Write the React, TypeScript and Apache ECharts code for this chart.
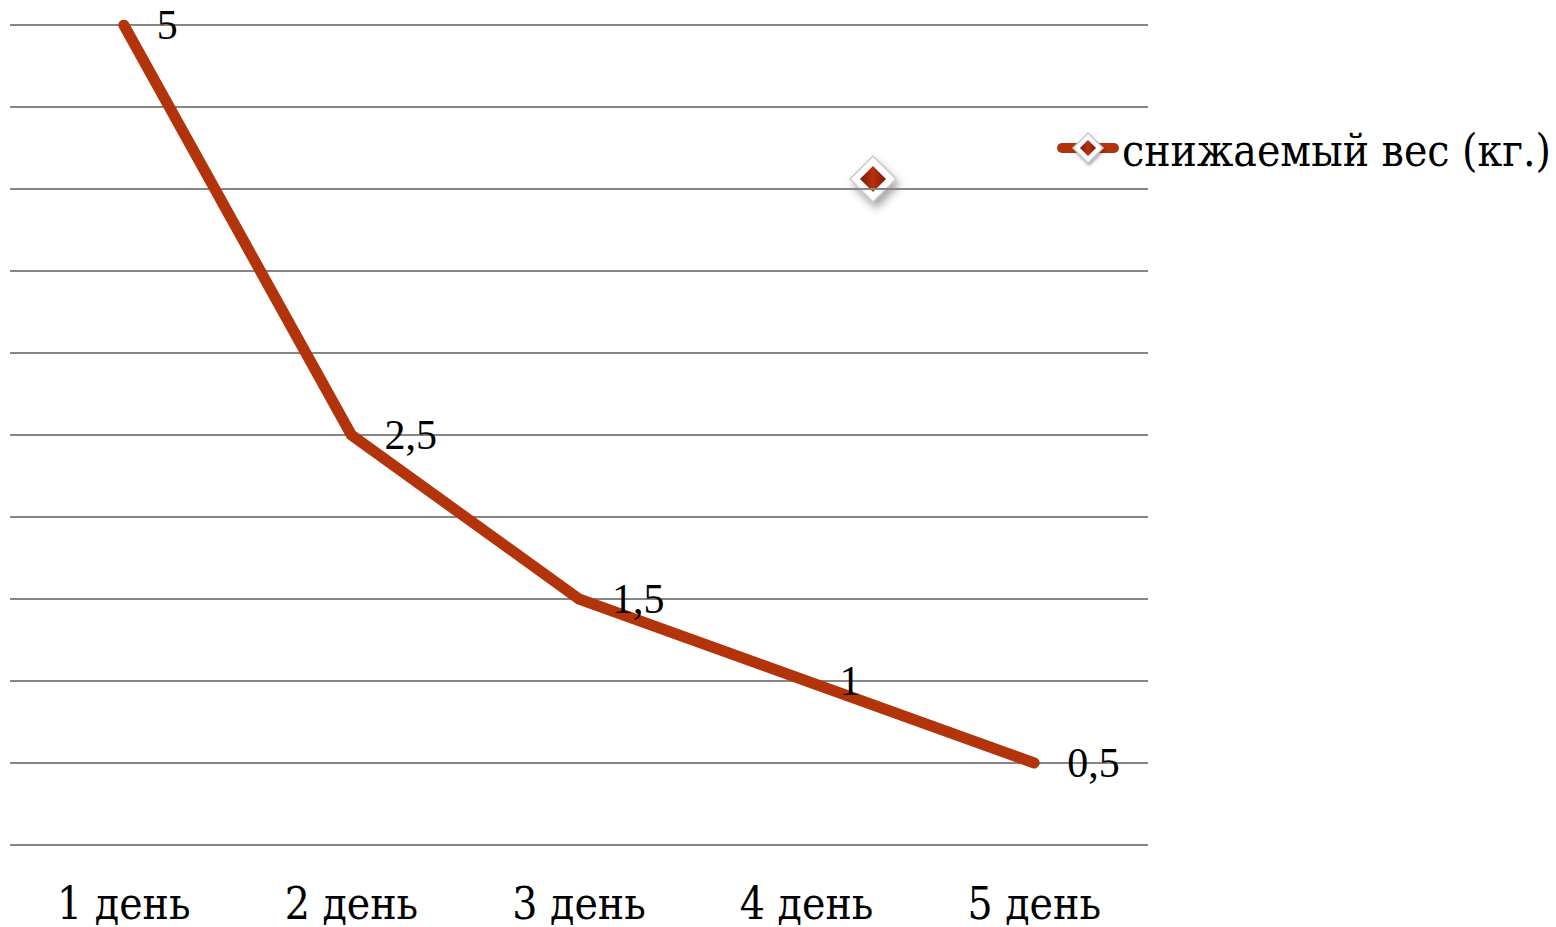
import React, { useEffect, useRef } from "react";
import * as echarts from "echarts";

const categories = ["1 день", "2 день", "3 день", "4 день", "5 день"];
const weightLoss = [5, 2.5, 1.5, 1, 0.5];
const seriesName = "снижаемый вес (кг.)";

const LINE_COLOR = "#B3330A";
const TEXT_FONT = "'DejaVu Serif Condensed', 'DejaVu Serif', serif";

function diamond(cx: number, cy: number, outer: number, inner: number, shadow: boolean) {
  return {
    type: "group",
    children: [
      {
        type: "polygon",
        shape: {
          points: [
            [cx, cy - outer],
            [cx + outer, cy],
            [cx, cy + outer],
            [cx - outer, cy],
          ],
        },
        style: {
          fill: "#ffffff",
          stroke: "#c8c8c8",
          lineWidth: 1.5,
          shadowBlur: shadow ? 8 : 3,
          shadowOffsetX: shadow ? 3 : 1,
          shadowOffsetY: shadow ? 6 : 2,
          shadowColor: "rgba(0,0,0,0.35)",
        },
      },
      {
        type: "polygon",
        shape: {
          points: [
            [cx, cy - inner],
            [cx + inner, cy],
            [cx, cy + inner],
            [cx - inner, cy],
          ],
        },
        style: {
          fill: {
            type: "linear",
            x: 0,
            y: 0,
            x2: 1,
            y2: 0,
            colorStops: [
              { offset: 0, color: "#7a1a05" },
              { offset: 0.5, color: "#b8320e" },
              { offset: 1, color: "#7a1a05" },
            ],
          },
        },
      },
    ],
  };
}

export default function App() {
  const ref = useRef<HTMLDivElement>(null);

  useEffect(() => {
    if (!ref.current) return;
    const chart = echarts.init(ref.current, undefined, { renderer: "svg" });
    chart.setOption({
      animation: false,
      backgroundColor: "#ffffff",
      grid: { left: 10, right: 408, top: 25, bottom: 82, containLabel: false },
      legend: {
        data: [{ name: seriesName, icon: "none" }],
        left: 1052,
        top: 123,
        itemWidth: 62,
        itemHeight: 14,
        itemGap: 0,
        selectedMode: false,
        textStyle: {
          fontFamily: TEXT_FONT,
          fontSize: 44,
          color: "#000000",
          padding: [0, 0, 0, -2],
        },
      },
      xAxis: {
        type: "category",
        data: categories,
        boundaryGap: true,
        axisLine: { show: false },
        axisTick: { show: false },
        axisLabel: {
          fontFamily: TEXT_FONT,
          fontSize: 44,
          lineHeight: 44,
          color: "#000000",
          margin: 36,
        },
      },
      yAxis: {
        type: "value",
        min: 0,
        max: 5,
        interval: 0.5,
        axisLabel: { show: false },
        axisLine: { show: false },
        axisTick: { show: false },
        splitLine: { lineStyle: { color: "#868686", width: 2 } },
      },
      series: [
        {
          name: seriesName,
          type: "line",
          data: weightLoss,
          showSymbol: true,
          symbol: "circle",
          symbolSize: 2,
          lineStyle: { color: LINE_COLOR, width: 11, cap: "round", join: "round" },
          itemStyle: { color: LINE_COLOR },
          label: {
            show: true,
            position: "right",
            distance: 32,
            fontFamily: "Liberation Serif",
            fontSize: 42,
            color: "#000000",
            formatter: (p: any) => String(p.value).replace(".", ","),
          },
        },
      ],
      graphic: [
        {
          type: "line",
          shape: { x1: 1062, y1: 148, x2: 1114, y2: 148 },
          style: { stroke: LINE_COLOR, lineWidth: 10, lineCap: "round" },
        },
        diamond(1088, 148, 15, 8, false),
        diamond(873, 179, 23, 13, true),
      ],
    });
    return () => chart.dispose();
  }, []);

  return (
    <div
      ref={ref}
      style={{ position: "fixed", left: 0, top: 0, width: 1556, height: 927 }}
    />
  );
}
